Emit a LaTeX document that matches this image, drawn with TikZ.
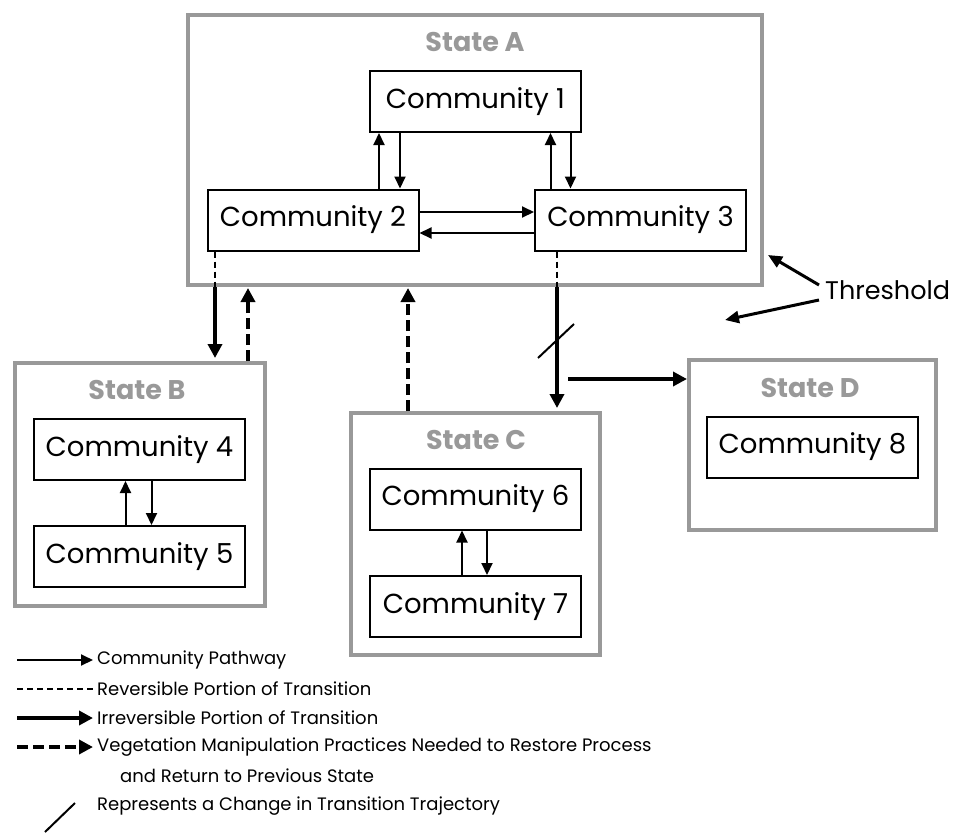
\documentclass[tikz,border=0pt]{standalone}
\usepackage{fontspec}
\setmainfont{Poppins}
\usetikzlibrary{arrows.meta}
\definecolor{stategray}{RGB}{153,153,153}
\tikzset{
  community/.style = {draw = black, line width = 2pt, minimum width = 211pt, minimum height = 61pt, inner sep = 0pt, font = \fontsize{27.5}{32}\selectfont},
  statebox/.style = {draw = stategray, line width = 4pt, inner sep = 0pt},
  statelabel/.style = {text = stategray, inner sep = 0pt, font = \fontsize{27}{32}\selectfont\bfseries},
  pathway/.style = {line width = 2pt, -{Triangle[length = 12pt, width = 11pt]}},
  reversible/.style = {line width = 2.5pt, dash pattern = on 6pt off 4pt},
  irreversible/.style = {line width = 4pt, -{Triangle[length = 14pt, width = 14pt]}},
  restore/.style = {irreversible, dash pattern = on 11pt off 5pt},
  legendtext/.style = {anchor = west, inner sep = 0pt, font = \fontsize{18}{22}\selectfont}
}
\begin{document}
\begin{tikzpicture}[x = 1pt, y = -1pt]
\useasboundingbox (0,0) rectangle (959,833);
\pgfmathsetmacro\lx{17};
\pgfmathsetmacro\tx{97};
\foreach \s/\x/\y/\w/\h in {A/475/150/574/270, B/140/484.5/250/243, C/475.5/534/249/242, D/812.5/445/247/170} \node [statebox, minimum width = \w pt, minimum height = \h pt] (state\s) at (\x,\y) {};
\foreach \s/\x/\y in {A/475/42, B/137/390, C/476/440, D/810/388} \node [statelabel] (label\s) at (\x,\y) {State \s};
\foreach \n/\x/\y in {1/475.5/101.5, 2/313/220, 3/640.5/220, 4/139.5/449.5, 5/139.5/556.5, 6/475.5/499, 7/475.5/606.5, 8/812.5/447} \node [community] (c\n) at (\x,\y) {Community \n};
\draw [pathway] ([xshift = 66pt]c2.north) -- ([xshift = 66pt]c2.north |- c1.south);
\draw [pathway] ([xshift = 87pt]c2.north |- c1.south) -- ([xshift = 87pt]c2.north);
\draw [pathway] ([xshift = -90pt]c3.north) -- ([xshift = -90pt]c3.north |- c1.south);
\draw [pathway] ([xshift = -70pt]c3.north |- c1.south) -- ([xshift = -70pt]c3.north);
\draw [pathway] ([yshift = 8pt]c2.east) -- ([yshift = 8pt]c2.east -| c3.west);
\draw [pathway] ([yshift = -13pt]c3.west) -- ([yshift = -13pt]c3.west -| c2.east);
\draw [pathway] ([xshift = -14pt]c5.north) -- ([xshift = -14pt]c5.north |- c4.south);
\draw [pathway] ([xshift = 12pt]c4.south) -- ([xshift = 12pt]c4.south |- c5.north);
\draw [pathway] ([xshift = -13.5pt]c7.north) -- ([xshift = -13.5pt]c7.north |- c6.south);
\draw [pathway] ([xshift = 11.5pt]c6.south) -- ([xshift = 11.5pt]c6.south |- c7.north);
\draw [reversible] ([xshift = -98pt]c2.south) -- ([xshift = -98pt]c2.south |- stateA.south);
\draw [irreversible, shorten > = 3pt] ([xshift = -98pt]c2.south |- stateA.south) -- ([xshift = -98pt]c2.south |- stateB.north);
\draw [restore, shorten > = 1pt] ([xshift = 108pt]stateB.north) -- ([xshift = 108pt]stateB.north |- stateA.south);
\draw [restore, shorten > = 1pt] ([xshift = -67.5pt]stateC.north) -- ([xshift = -67.5pt]stateC.north |- stateA.south);
\draw [reversible] ([xshift = -83.5pt]c3.south) -- ([xshift = -83.5pt]c3.south |- stateA.south);
\draw [irreversible, shorten > = 3pt] ([xshift = -83.5pt]c3.south |- stateA.south) -- ([xshift = -83.5pt]c3.south |- stateC.north);
\coordinate (cut) at (556,341);
\draw [line width = 2pt] ([shift = {(-18pt,-17pt)}]cut) -- ([shift = {(18pt,17pt)}]cut);
\coordinate (branch) at (568,379);
\draw [irreversible] (branch) -- (branch -| stateD.west);
\node [anchor = west, inner sep = 0pt, font = \fontsize{25.5}{30}\selectfont] (threshold) at (825,290) {Threshold};
\coordinate (threshA) at (768,255);
\coordinate (threshD) at (725,320);
\draw [line width = 3pt, -{Triangle[length = 14pt, width = 12pt]}] ([shift = {(-6pt,5pt)}]threshold.west) -- (threshA);
\draw [line width = 3pt, -{Triangle[length = 14pt, width = 12pt]}] ([shift = {(-6pt,-10pt)}]threshold.west) -- (threshD);
\node [legendtext] (legpath) at (\tx,660) {Community Pathway};
\node [legendtext] (legrev) at (\tx,689) {Reversible Portion of Transition};
\node [legendtext] (legirr) at (\tx,718) {Irreversible Portion of Transition};
\node [legendtext] (legveg) at (\tx,747) {Vegetation Manipulation Practices Needed to Restore Process};
\node [legendtext] (legveg2) at (120,776) {and Return to Previous State};
\node [legendtext] (legcut) at (\tx,806) {Represents a Change in Transition Trajectory};
\draw [pathway] (legpath.west -| \lx,0) -- ([xshift = -4pt]legpath.west);
\draw [reversible, line width = 2pt] (legrev.west -| \lx,0) -- ([xshift = -4pt]legrev.west);
\draw [irreversible] (legirr.west -| \lx,0) -- ([xshift = -4pt]legirr.west);
\draw [restore] (legveg.west -| \lx,0) -- ([xshift = -4pt]legveg.west);
\draw [line width = 2pt] (45,832) -- (75,803);
\end{tikzpicture}
\end{document}
